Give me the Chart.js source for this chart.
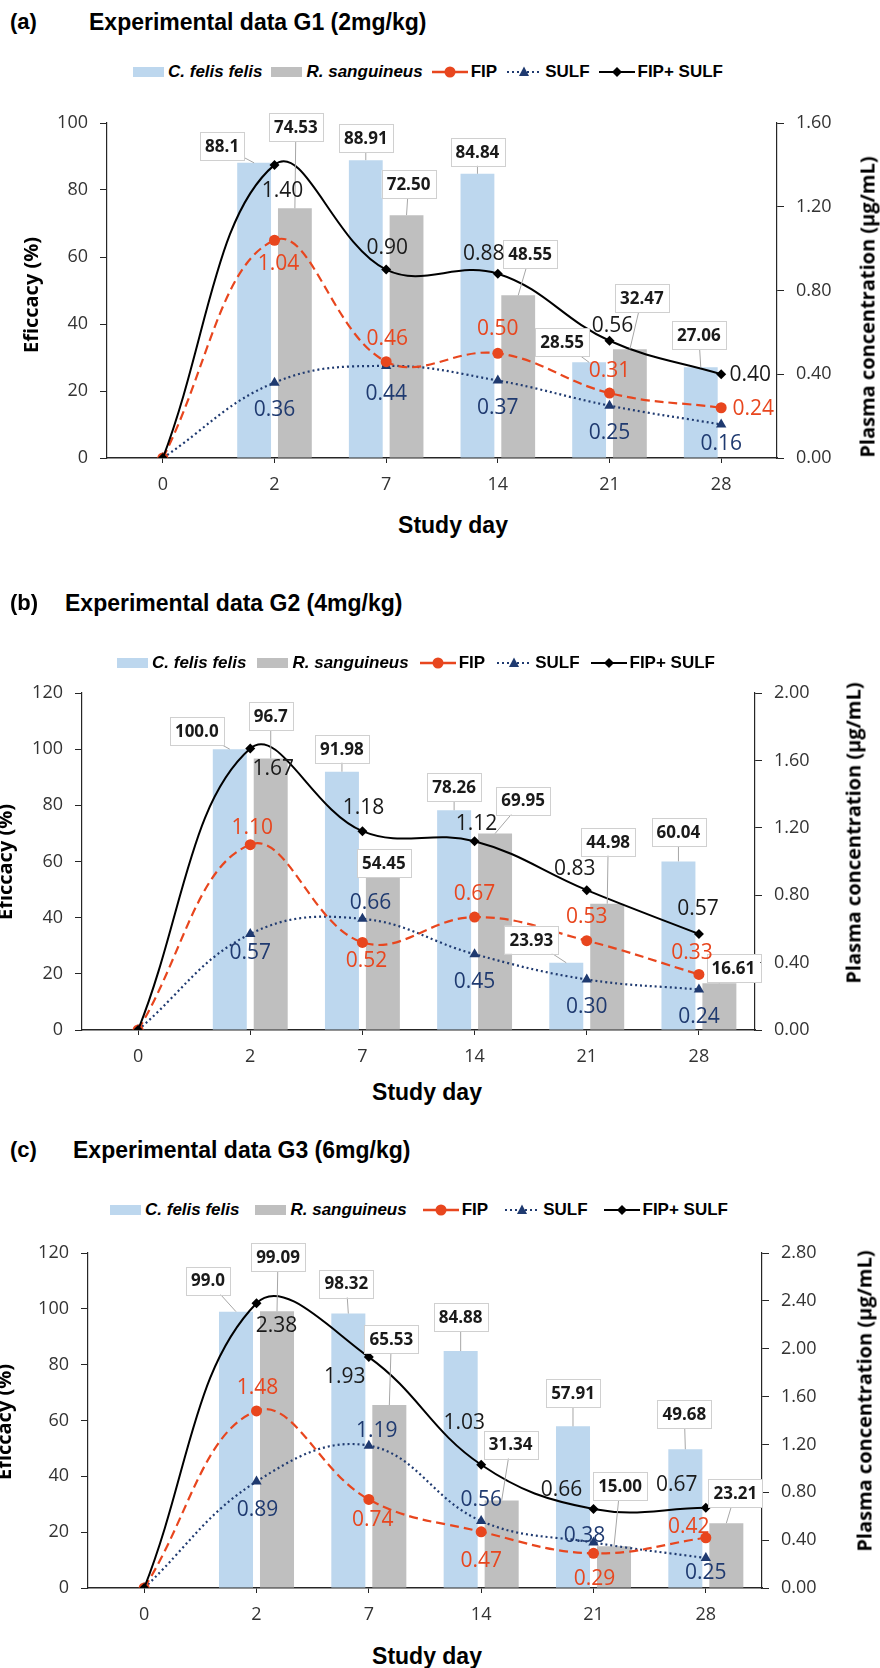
<!DOCTYPE html>
<html>
<head>
<meta charset="utf-8">
<script src="https://cdn.jsdelivr.net/npm/chart.js@4.4.1/dist/chart.umd.min.js"></script>
<style>
  html, body { margin: 0; padding: 0; background: #fff; }
  body { width: 880px; height: 1668px; position: relative; overflow: hidden; color: #000; }
  .abs { position: absolute; white-space: nowrap; }
  .narrow { font-family: 'Liberation Sans Narrow', 'Arial Narrow', 'Liberation Sans', sans-serif; font-weight: bold; }
  .tag { font-size: 22px; transform: translateY(-50%); }
  .ptitle { font-size: 23px; transform: translateY(-50%); }
  .legend { display: flex; align-items: center; font-size: 17px; transform: translateY(-50%); }
  .legend .sw { display: inline-block; width: 31px; height: 10px; margin-right: 4px; }
  .legend svg { margin-right: 3px; }
  .legend .it { display: flex; align-items: center; }
  .ytitle { font-family: 'Open Sans', sans-serif; font-weight: bold; font-size: 20px; transform: translate(-50%, -50%) rotate(-90deg); }
  .xtitle { font-size: 23px; transform: translate(-50%, -50%); }
  canvas { position: absolute; left: 0; }
</style>
</head>
<body>
<canvas id="chartA" width="880" height="400" style="top:100px"></canvas>
<canvas id="chartB" width="880" height="400" style="top:670px"></canvas>
<canvas id="chartC" width="880" height="400" style="top:1230px"></canvas>
<script>
const days = ['0', '2', '7', '14', '21', '28'];

// (a) G1 2mg/kg
const g1Felis = [0, 88.1, 88.91, 84.84, 28.55, 27.06];
const g1Sang = [0, 74.53, 72.50, 48.55, 32.47, null];
const g1Fip = [0, 1.04, 0.46, 0.50, 0.31, 0.24];
const g1Sulf = [0, 0.36, 0.44, 0.37, 0.25, 0.16];
const g1Both = [0, 1.40, 0.90, 0.88, 0.56, 0.40];

// (b) G2 4mg/kg
const g2Felis = [0, 100.0, 91.98, 78.26, 23.93, 60.04];
const g2Sang = [0, 96.7, 54.45, 69.95, 44.98, 16.61];
const g2Fip = [0, 1.10, 0.52, 0.67, 0.53, 0.33];
const g2Sulf = [0, 0.57, 0.66, 0.45, 0.30, 0.24];
const g2Both = [0, 1.67, 1.18, 1.12, 0.83, 0.57];

// (c) G3 6mg/kg
const g3Felis = [0, 99.0, 98.32, 84.88, 57.91, 49.68];
const g3Sang = [0, 99.09, 65.53, 31.34, 15.00, 23.21];
const g3Fip = [0, 1.48, 0.74, 0.47, 0.29, 0.42];
const g3Sulf = [0, 0.89, 1.19, 0.56, 0.38, 0.25];
const g3Both = [0, 2.38, 1.93, 1.03, 0.66, 0.67];

// axis ranges [efficacy max, concentration max]
const g1Max = [100, 1.6];
const g2Max = [120, 2.0];
const g3Max = [120, 2.8];

const seriesNames = ['C. felis felis', 'R. sanguineus', 'FIP', 'SULF', 'FIP+ SULF'];
const panelTitles = ['Experimental data G1 (2mg/kg)', 'Experimental data G2 (4mg/kg)', 'Experimental data G3 (6mg/kg)'];
const panelTags = ['(a)', '(b)', '(c)'];

const BLUE = '#BDD7EE', GREY = '#BFBFBF', RED = '#E8461E', NAVY = '#1F3A70', AX = '#262626';

// label placement (px offsets from the point), decimals for bar labels
const layouts = [
  {
    top: 100, left: 107, right: 777, xh: 42,
    felis: [null, [-32, -17], [0, -22], [0, -22], [-27, -20], [-2, -32]],
    sang: [null, [1, -81], [2, -31], [12, -41], [12, -51], null],
    both: [null, [8, 25], [1, -23], [-14, -21], [3, -16], [29, 0]],
    fip: [null, [4, 23], [1, -24], [0, -25], [0, -23], [32, 0]],
    sulf: [null, [0, 26], [0, 27], [0, 26], [0, 26], [0, 19]],
    felisDec: [2, 1, 2, 2, 2, 2], sangDec: [2, 2, 2, 2, 2, 2],
    tag: [10, 22], title: [89, 22], legend: [133, 72, 9],
    yl: [30, 295], yr: [867, 307], xt: [453, 525]
  },
  {
    top: 670, left: 82, right: 755, xh: 40,
    felis: [null, [-33, -18], [0, -23], [0, -23], [-35, -23], [0, -29]],
    sang: [null, [0, -42], [1, -14], [28, -33], [1, -62], [14, -15]],
    both: [null, [23, 19], [1, -24], [2, -18], [-12, -22], [-1, -26]],
    fip: [null, [2, -18], [4, 18], [0, -24], [0, -25], [-7, -22]],
    sulf: [null, [0, 18], [8, -17], [0, 27], [0, 27], [0, 26]],
    felisDec: [2, 1, 2, 2, 2, 2], sangDec: [2, 1, 2, 2, 2, 2],
    tag: [10, 603], title: [65, 603], legend: [117, 663, 11],
    yl: [4, 862], yr: [853, 833], xt: [427, 1092]
  },
  {
    top: 1230, left: 88, right: 762, xh: 42,
    felis: [null, [-28, -31], [-2, -30], [0, -34], [0, -33], [-1, -35]],
    sang: [null, [1, -54], [2, -66], [9, -56], [6, -60], [9, -30]],
    both: [null, [20, 22], [-24, 19], [-17, -43], [-32, -20], [-29, -24]],
    fip: [null, [1, -24], [4, 20], [0, 28], [1, 25], [-17, -12]],
    sulf: [null, [1, 27], [8, -16], [0, -22], [-9, -8], [0, 14]],
    felisDec: [2, 1, 2, 2, 2, 2], sangDec: [2, 2, 2, 2, 2, 2],
    tag: [10, 1150], title: [73, 1150], legend: [110, 1210, 16],
    yl: [3, 1422], yr: [864, 1401], xt: [427, 1656]
  }
];

function addText(cls, text, x, y) {
  const d = document.createElement('div');
  d.className = 'abs ' + cls;
  d.textContent = text;
  d.style.left = x + 'px';
  d.style.top = y + 'px';
  document.body.appendChild(d);
  return d;
}

function lineSwatch(kind) {
  let s = '<svg width="36" height="14" viewBox="0 0 36 14">';
  if (kind === 'fip') {
    s += '<line x1="0" y1="7" x2="36" y2="7" stroke="' + RED + '" stroke-width="2.5"/><circle cx="18" cy="7" r="5.5" fill="' + RED + '"/>';
  } else if (kind === 'sulf') {
    s += '<line x1="1" y1="7" x2="36" y2="7" stroke="' + NAVY + '" stroke-width="2" stroke-dasharray="2,3"/><polygon points="18,1.5 23,11 13,11" fill="' + NAVY + '"/>';
  } else {
    s += '<line x1="0" y1="7" x2="36" y2="7" stroke="#000" stroke-width="2"/><polygon points="18,2 23,7 18,12 13,7" fill="#000"/>';
  }
  return s + '</svg>';
}

function addLegend(x, y, gap) {
  const d = document.createElement('div');
  d.className = 'abs legend narrow';
  d.style.left = x + 'px';
  d.style.top = y + 'px';
  const parts = [
    '<span class="sw" style="background:' + BLUE + '"></span><i>' + seriesNames[0] + '</i>',
    '<span class="sw" style="background:' + GREY + '"></span><i>' + seriesNames[1] + '</i>',
    lineSwatch('fip') + seriesNames[2],
    lineSwatch('sulf') + seriesNames[3],
    lineSwatch('both') + seriesNames[4]
  ];
  d.innerHTML = parts.map(p => '<span class="it" style="margin-right:' + gap + 'px">' + p + '</span>').join('');
  document.body.appendChild(d);
}

function labelPlugin(lay) {
  return {
    id: 'valueLabels',
    afterDatasetsDraw(chart) {
      const ctx = chart.ctx;
      const specs = [
        { idx: 3, off: lay.felis, dec: lay.felisDec, box: true },
        { idx: 4, off: lay.sang, dec: lay.sangDec, box: true },
        { idx: 0, off: lay.fip, color: RED },
        { idx: 1, off: lay.sulf, color: NAVY },
        { idx: 2, off: lay.both, color: '#1a1a1a' }
      ];
      specs.forEach(sp => {
        const meta = chart.getDatasetMeta(sp.idx);
        const vals = chart.data.datasets[sp.idx].data;
        meta.data.forEach((el, i) => {
          const off = sp.off[i];
          const v = vals[i];
          if (!off || v == null) return;
          const text = v.toFixed(sp.dec ? sp.dec[i] : 2);
          const x = el.x + off[0], y = el.y + off[1];
          ctx.save();
          ctx.textAlign = 'center';
          ctx.textBaseline = 'middle';
          if (sp.box) {
            ctx.font = 'bold 17px "Open Sans"';
            const w = ctx.measureText(text).width + 10, h = 28;
            ctx.strokeStyle = '#A6A6A6';
            ctx.lineWidth = 1;
            ctx.beginPath();
            ctx.moveTo(el.x, el.y);
            ctx.lineTo(x, y);
            ctx.stroke();
            ctx.fillStyle = '#fff';
            ctx.fillRect(x - w / 2, y - h / 2, w, h);
            ctx.strokeStyle = '#D0D0D0';
            ctx.strokeRect(Math.round(x - w / 2) + 0.5, Math.round(y - h / 2) + 0.5, Math.round(w), h);
            ctx.fillStyle = '#1a1a1a';
          } else {
            ctx.font = '21px "Open Sans"';
            ctx.fillStyle = sp.color;
          }
          ctx.fillText(text, x, y + 1);
          ctx.restore();
        });
      });
    }
  };
}

function makeChart(id, n, felis, sang, fip, sulf, both, max) {
  const lay = layouts[n];
  addText('narrow tag', panelTags[n], lay.tag[0], lay.tag[1]);
  addText('narrow ptitle', panelTitles[n], lay.title[0], lay.title[1]);
  addLegend(lay.legend[0], lay.legend[1], lay.legend[2]);
  addText('ytitle', 'Eficcacy (%)', lay.yl[0], lay.yl[1]);
  addText('ytitle', 'Plasma concentration (\u00b5g/mL)', lay.yr[0], lay.yr[1]);
  addText('narrow xtitle', 'Study day', lay.xt[0], lay.xt[1]);

  const tickFont = { family: 'Open Sans', size: 18 };
  const axisGrid = { display: true, drawOnChartArea: false, drawTicks: true, color: AX };
  return new Chart(document.getElementById(id), {
    data: {
      labels: days,
      datasets: [
        { type: 'line', label: seriesNames[2], data: fip, yAxisID: 'yc', borderColor: RED, backgroundColor: RED,
          borderWidth: 2.2, borderDash: [9, 5], pointStyle: 'circle', pointRadius: 5.5, pointBorderWidth: 0, tension: 0.4, order: 2 },
        { type: 'line', label: seriesNames[3], data: sulf, yAxisID: 'yc', borderColor: NAVY, backgroundColor: NAVY,
          borderWidth: 2.2, borderDash: [2, 3], pointStyle: 'triangle', pointRadius: 6, pointBorderWidth: 0, tension: 0.4, order: 3 },
        { type: 'line', label: seriesNames[4], data: both, yAxisID: 'yc', borderColor: '#000', backgroundColor: '#000',
          borderWidth: 2, pointStyle: 'rectRot', pointRadius: 5, pointBorderWidth: 0, tension: 0.4, order: 1 },
        { type: 'bar', label: seriesNames[0], data: felis, yAxisID: 'ye', backgroundColor: BLUE,
          categoryPercentage: 0.73, barPercentage: 0.83, order: 10 },
        { type: 'bar', label: seriesNames[1], data: sang, yAxisID: 'ye', backgroundColor: GREY,
          categoryPercentage: 0.73, barPercentage: 0.83, order: 11 }
      ]
    },
    options: {
      responsive: false,
      animation: false,
      layout: { padding: { top: 23, left: 0, right: 0, bottom: 0 } },
      plugins: { legend: { display: false }, tooltip: { enabled: false } },
      scales: {
        x: {
          type: 'category', offset: true,
          grid: Object.assign({}, axisGrid, { tickLength: 5, offset: false }),
          border: { display: true, color: AX, width: 1.5 },
          ticks: { color: '#333', font: tickFont, padding: 11 },
          afterFit: s => { s.height = lay.xh; }
        },
        ye: {
          position: 'left', min: 0, max: max[0],
          grid: Object.assign({}, axisGrid, { tickLength: 7 }),
          border: { display: true, color: AX, width: 1.2 },
          ticks: { stepSize: 20, color: '#333', font: tickFont, padding: 12 },
          afterFit: s => { s.width = lay.left; }
        },
        yc: {
          position: 'right', min: 0, max: max[1],
          grid: Object.assign({}, axisGrid, { tickLength: 7 }),
          border: { display: true, color: AX, width: 1.2 },
          ticks: { stepSize: 0.4, color: '#333', font: tickFont, padding: 12, callback: v => v.toFixed(2) },
          afterFit: s => { s.width = 880 - lay.right; }
        }
      }
    },
    plugins: [labelPlugin(lay)]
  });
}

makeChart('chartA', 0, g1Felis, g1Sang, g1Fip, g1Sulf, g1Both, g1Max);
makeChart('chartB', 1, g2Felis, g2Sang, g2Fip, g2Sulf, g2Both, g2Max);
makeChart('chartC', 2, g3Felis, g3Sang, g3Fip, g3Sulf, g3Both, g3Max);
</script>
</body>
</html>
